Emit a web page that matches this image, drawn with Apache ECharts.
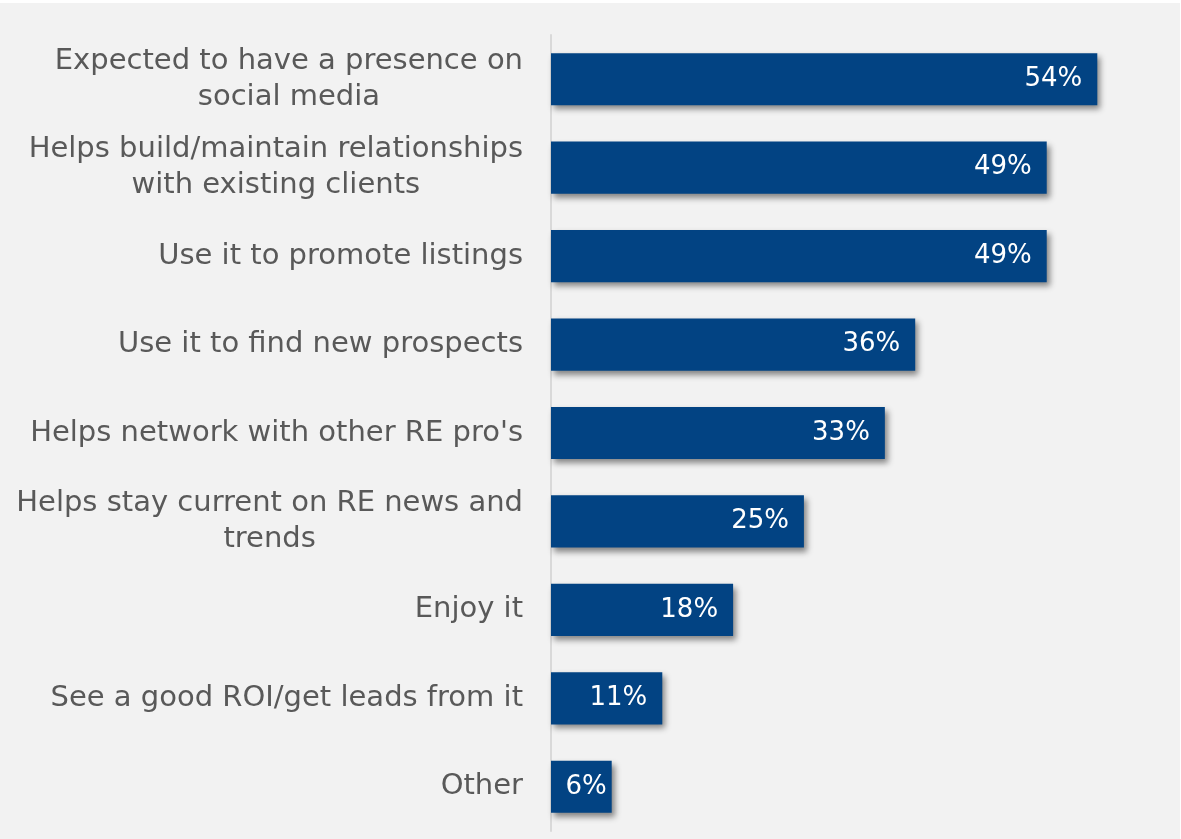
<!DOCTYPE html>
<html>
<head>
<meta charset="utf-8">
<script src="https://cdn.jsdelivr.net/npm/echarts@6/dist/echarts.min.js"></script>
<style>
  html, body { margin: 0; padding: 0; background: #ffffff; }
  #chart { position: absolute; left: 0; top: 3px; width: 1180px; height: 836px; background: #f2f2f2; }
</style>
</head>
<body>
<div id="chart"></div>
<script>
// Reasons for using social media, share of respondents (%)
const categories = [
  'Expected to have a presence on\nsocial media',
  'Helps build/maintain relationships\nwith existing clients',
  'Use it to promote listings',
  'Use it to find new prospects',
  "Helps network with other RE pro's",
  'Helps stay current on RE news and\ntrends',
  'Enjoy it',
  'See a good ROI/get leads from it',
  'Other'
];
const values = [54, 49, 49, 36, 33, 25, 18, 11, 6];

const FONT = 'DejaVu Sans';
const chart = echarts.init(document.getElementById('chart'), null, { renderer: 'canvas' });

// narrow bars keep their label closer to the bar end
const barData = values.map(v => v < 8
  ? { value: v, label: { distance: 5 } }
  : v);

chart.setOption({
  backgroundColor: '#f2f2f2',
  animation: false,
  grid: { left: 551, right: 22, top: 32, bottom: 8, containLabel: false },
  xAxis: {
    type: 'value',
    min: 0,
    max: 60,
    show: false
  },
  yAxis: {
    type: 'category',
    inverse: true,
    data: categories,
    axisLine: { show: true, lineStyle: { color: '#d9d9d9', width: 2 } },
    axisTick: { show: false },
    axisLabel: {
      margin: 28,
      align: 'right',
      // each wrapped line is centred under the longest one
      formatter: v => v.split('\n').map(s => '{c|' + s + '}').join('\n'),
      rich: {
        c: {
          align: 'center',
          color: '#595959',
          fontFamily: FONT,
          fontSize: 29,
          lineHeight: 36
        }
      }
    }
  },
  series: [{
    type: 'bar',
    data: barData,
    barCategoryGap: '41%',
    itemStyle: {
      color: '#024383',
      shadowColor: 'rgba(0,0,0,0.45)',
      shadowBlur: 6,
      shadowOffsetX: 3,
      shadowOffsetY: 4
    },
    label: {
      show: true,
      position: 'insideRight',
      distance: 15,
      color: '#ffffff',
      fontFamily: FONT,
      fontSize: 26,
      formatter: p => p.value + '%'
    }
  }]
});
</script>
</body>
</html>
